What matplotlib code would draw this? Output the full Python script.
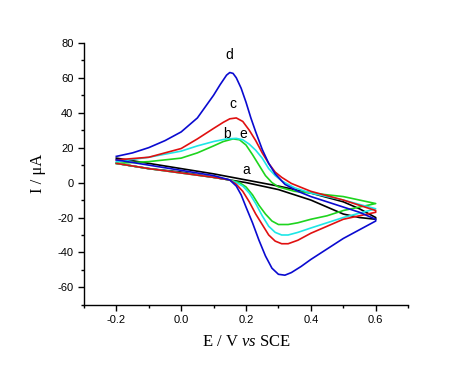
import matplotlib.pyplot as plt

plt.rcParams['mathtext.fontset'] = 'custom'
plt.rcParams['mathtext.it'] = 'Liberation Serif:italic'
plt.rcParams['mathtext.rm'] = 'Liberation Serif'

# potentials (V) and currents (uA)
# a - black
a_fwd_E = [-0.2, -0.1, 0.0, 0.1, 0.2, 0.3, 0.4, 0.5, 0.55, 0.6]
a_fwd_I = [14, 11, 8, 5, 1.5, -2, -6, -11, -15, -20]
a_rev_E = [0.6, 0.55, 0.5, 0.45, 0.4, 0.3, 0.2, 0.1, 0.0, -0.1, -0.2]
a_rev_I = [-21, -20, -18, -14, -10, -4, 0, 3, 6, 8, 11]

# b - green
b_fwd_E = [-0.2, -0.1, 0.0, 0.05, 0.1, 0.13, 0.16, 0.18, 0.2, 0.22, 0.24, 0.26, 0.28,
           0.3, 0.35, 0.4, 0.5, 0.6]
b_fwd_I = [11, 12, 14, 17, 21, 23.5, 25, 24.5, 21.5, 16, 10, 4, 0, -2.5, -5, -6, -8, -12]
b_rev_E = [0.6, 0.5, 0.45, 0.4, 0.36, 0.33, 0.3, 0.28, 0.26, 0.24, 0.22, 0.2, 0.18,
           0.15, 0.1, 0.0, -0.1, -0.2]
b_rev_I = [-12, -16, -19, -21, -23, -24, -24, -22, -18, -13, -7, -2.5, 0, 1.5, 3, 5.5, 8, 11]

# c - red
c_fwd_E = [-0.2, -0.1, 0.0, 0.05, 0.1, 0.13, 0.15, 0.17, 0.19, 0.21, 0.23, 0.25, 0.27,
           0.29, 0.31, 0.34, 0.4, 0.5, 0.6]
c_fwd_I = [13, 14.5, 19.5, 25, 31, 34.5, 36.5, 37, 35, 30, 24, 17, 11, 6, 3, -0.5, -5, -10, -16]
c_rev_E = [0.6, 0.5, 0.45, 0.4, 0.36, 0.33, 0.31, 0.29, 0.27, 0.25, 0.23, 0.21, 0.19,
           0.17, 0.15, 0.1, 0.0, -0.1, -0.2]
c_rev_I = [-17, -21, -25, -29, -33, -35, -35, -33.5, -30, -24, -18, -11, -5, -1, 1.5, 3, 5.5, 8, 11]

# d - blue
d_fwd_E = [-0.2, -0.15, -0.1, -0.05, 0.0, 0.05, 0.1, 0.12, 0.14, 0.15, 0.16, 0.17, 0.185,
           0.2, 0.215, 0.23, 0.25, 0.27, 0.29, 0.32, 0.36, 0.4, 0.5, 0.55, 0.6]
d_fwd_I = [15, 17, 20, 24, 29, 37, 50, 56, 61.5, 63, 62.5, 60, 54, 46, 37, 29, 19, 11, 5,
           -1, -5, -8, -14, -17, -21]
d_rev_E = [0.6, 0.55, 0.5, 0.45, 0.4, 0.37, 0.34, 0.32, 0.3, 0.28, 0.26, 0.24, 0.22, 0.2,
           0.185, 0.17, 0.15, 0.1, 0.0, -0.1, -0.2]
d_rev_I = [-22, -27, -32, -38, -44, -48, -51.5, -53, -52.5, -49, -42, -33, -23, -14, -7,
           -2, 1.5, 4, 7, 10, 13]

# e - cyan
e_fwd_E = [-0.2, -0.1, 0.0, 0.05, 0.1, 0.14, 0.17, 0.19, 0.21, 0.23, 0.25, 0.27, 0.29,
           0.31, 0.35, 0.4, 0.5, 0.6]
e_fwd_I = [12, 14.5, 18, 21, 23.5, 25, 25.3, 24.5, 22, 18.5, 14, 8, 4, 1, -3, -6, -10, -15]
e_rev_E = [0.6, 0.5, 0.45, 0.4, 0.36, 0.33, 0.31, 0.29, 0.27, 0.25, 0.23, 0.21, 0.19,
           0.17, 0.15, 0.1, 0.0, -0.1, -0.2]
e_rev_I = [-15, -20, -23, -26, -28.5, -30, -30, -28.5, -25, -19, -12, -6, -2, 0, 1.5, 3, 5.5, 8, 11]

curves = [
    ('a', a_fwd_E + a_rev_E, a_fwd_I + a_rev_I, 'black'),
    ('b', b_fwd_E + b_rev_E, b_fwd_I + b_rev_I, '#1ed41e'),
    ('e', e_fwd_E + e_rev_E, e_fwd_I + e_rev_I, '#1ee6e6'),
    ('c', c_fwd_E + c_rev_E, c_fwd_I + c_rev_I, '#e01010'),
    ('d', d_fwd_E + d_rev_E, d_fwd_I + d_rev_I, '#0a0ad0'),
]

# label positions (E, I)
label_names = ['d', 'c', 'b', 'e', 'a']
label_E = [0.148, 0.158, 0.14, 0.192, 0.2]
label_I = [73, 45, 28, 28, 7]

fig = plt.figure(figsize=(4.74, 3.66), dpi=100)
ax = fig.add_axes([0.177, 0.167, 0.684, 0.716])

for name, E, I, col in curves:
    ax.plot(E, I, color=col, linewidth=1.2, solid_joinstyle='round')

for t, x, y in zip(label_names, label_E, label_I):
    ax.text(x, y, t, ha='center', va='center', fontsize=10, family='Liberation Sans')

ax.set_xlim(-0.3, 0.7)
ax.set_ylim(-70, 80)
ax.set_xticks([-0.2, 0.0, 0.2, 0.4, 0.6])
ax.set_xticks([-0.3, -0.1, 0.1, 0.3, 0.5, 0.7], minor=True)
ax.set_yticks([-60, -40, -20, 0, 20, 40, 60, 80])
ax.set_yticks(range(-70, 80, 20), minor=True)
ax.set_xticklabels(['-0.2', '0.0', '0.2', '0.4', '0.6'])
ax.set_yticklabels(['-60', '-40', '-20', '0', '20', '40', '60', '80'])
for lab in ax.get_xticklabels() + ax.get_yticklabels():
    lab.set_family('Liberation Sans')
    lab.set_fontsize(8)
ax.tick_params(which='major', direction='out', length=4, width=1)
ax.tick_params(which='minor', direction='out', length=2.5, width=1)

ax.spines['top'].set_visible(False)
ax.spines['right'].set_visible(False)
ax.spines['left'].set_linewidth(1)
ax.spines['bottom'].set_linewidth(1)

ax.set_xlabel(r'E / V $\mathit{vs}$ SCE', fontsize=12, family='Liberation Serif', labelpad=6)
ax.set_ylabel('I / μA', fontsize=12, family='Liberation Serif', labelpad=8)

fig.savefig('out.png', dpi=100)
